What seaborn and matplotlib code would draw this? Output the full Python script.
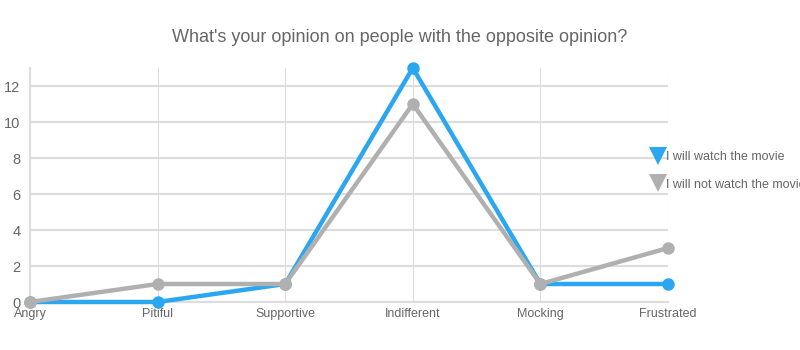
import matplotlib
matplotlib.use("Agg")
import matplotlib.pyplot as plt
from matplotlib.lines import Line2D
import seaborn as sns
import pandas as pd

categories = ["Angry", "Pitiful", "Supportive", "Indifferent", "Mocking", "Frustrated"]
series_names = ["I will watch the movie", "I will not watch the movie"]
watch = [0, 0, 1, 13, 1, 1]
not_watch = [0, 1, 1, 11, 1, 3]
y_ticks = [0, 2, 4, 6, 8, 10, 12]
title = "What's your opinion on people with the opposite opinion?"

colors = {series_names[0]: "#2aa7f0", series_names[1]: "#b0b0b0"}

df = pd.DataFrame({
    "category": categories * 2,
    "value": watch + not_watch,
    "series": [series_names[0]] * len(categories) + [series_names[1]] * len(categories),
})

sns.set_theme(style="white")
plt.rcParams["font.family"] = ["Liberation Sans", "DejaVu Sans"]

fig = plt.figure(figsize=(8, 3.5), dpi=100)
ax = fig.add_axes([30 / 800, 1 - 302 / 350, 638 / 800, 234 / 350])

order = [series_names[0], series_names[1]]
sns.lineplot(data=df, x="category", y="value", hue="series", hue_order=order,
             palette=colors, marker="o", markersize=9, markeredgewidth=0,
             linewidth=3.2, sort=False, ax=ax, legend=False, zorder=3)
for ln in ax.lines:
    ln.set_clip_on(False)

ax.set_xlim(0, len(categories) - 1)
ax.set_ylim(0, 13)
ax.set_yticks(y_ticks)
ax.set_xticks(range(len(categories)))
ax.set_xticklabels(categories)
ax.set_xlabel("")
ax.set_ylabel("")

ax.grid(True, axis="y", color="#dddddd", linewidth=1.5)
ax.grid(True, axis="x", color="#dddddd", linewidth=0.8)
ax.set_axisbelow(True)
for s in ["top", "right"]:
    ax.spines[s].set_visible(False)
ax.spines["left"].set_color("#dddddd")
ax.spines["left"].set_linewidth(1.5)
ax.spines["bottom"].set_color("#dddddd")
ax.spines["bottom"].set_linewidth(1.5)

ax.tick_params(axis="y", colors="#666666", labelsize=10.5, length=0, pad=7)
ax.tick_params(axis="x", colors="#666666", labelsize=9, length=0, pad=4)

fig.text(400 / 800, 1 - 37 / 350, title, ha="center", va="center",
         fontsize=13, color="#666666")

handles = [Line2D([], [], linestyle="none", marker="v", markersize=13,
                  markeredgewidth=0, color=colors[n]) for n in series_names]
fig.legend(handles, series_names, loc="upper left",
           bbox_to_anchor=(651 / 800, 1 - 151 / 350), frameon=False,
           fontsize=9, labelcolor="#666666", handlelength=1.1,
           handletextpad=0.1, labelspacing=1.25, borderpad=0, borderaxespad=0)

fig.savefig("out.png", dpi=100)
